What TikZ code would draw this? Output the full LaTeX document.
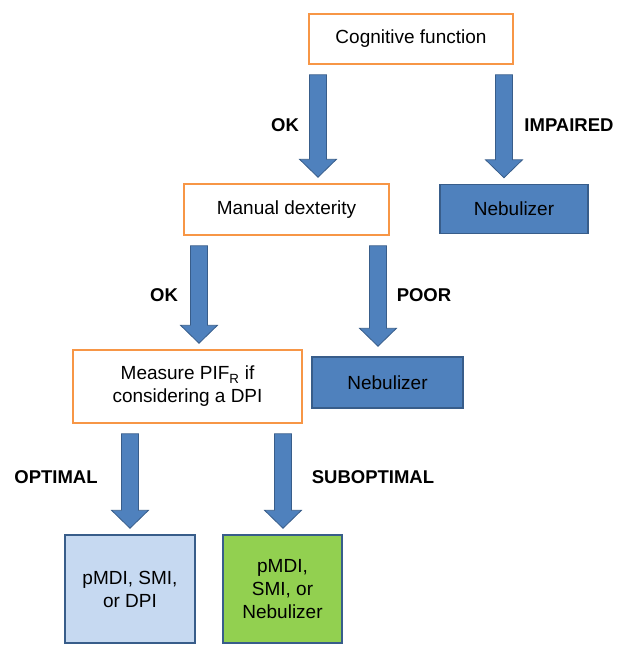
\documentclass[tikz,border=0pt]{standalone}
\usepackage{fontspec}
\setmainfont{Liberation Sans}
\usetikzlibrary{calc,positioning}

\definecolor{frameorange}{HTML}{F79646}
\definecolor{officeblue}{HTML}{4F81BD}
\definecolor{edgeblue}{HTML}{385D8A}
\definecolor{paleblue}{HTML}{C6D9F1}
\definecolor{leafgreen}{HTML}{92D050}

\tikzset{
  question/.style={rectangle, draw=frameorange, line width=1.5pt, fill=white, align=center, inner sep=0pt},
  device/.style={rectangle, draw=edgeblue, line width=1.5pt, fill=officeblue, align=center, inner sep=0pt},
  choice/.style={rectangle, draw=edgeblue, line width=1.5pt, align=center, inner sep=0pt},
  branch/.style={font=\fontsize{18.5}{22}\selectfont\bfseries},
  fatarrow/.style={fill=officeblue, draw=edgeblue, line width=0.8pt, line join=miter,
    to path={let \p1=(\tikztostart), \p2=(\tikztotarget) in
      ({\x1-8.5pt},{\y1-10pt}) -- ({\x1+8.5pt},{\y1-10pt}) -- ({\x1+8.5pt},{\y2+24pt})
      -- ({\x1+18.5pt},{\y2+24pt}) -- (\x1,{\y2+6pt}) -- ({\x1-18.5pt},{\y2+24pt})
      -- ({\x1-8.5pt},{\y2+24pt}) -- cycle}}
}

\begin{document}
\begin{tikzpicture}[x=1pt, y=1pt, font=\fontsize{19}{23}\selectfont]
    \useasboundingbox (0,0) rectangle (620,-645);

    % Questions
    \node[question, minimum width=204, minimum height=50] (cog) at (411,-39) {Cognitive function};
    \node[question, minimum width=205, minimum height=51] (manual) at (286.5,-209.5) {Manual dexterity};
    \node[question, minimum width=229, minimum height=73] (measure) at (187.5,-386.5) {Measure PIF\textsubscript{R} if\\considering a DPI};

    % Devices
    \node[device, minimum width=148, minimum height=49] (neb1) at (514,-209) {Nebulizer};
    \node[device, minimum width=151, minimum height=51] (neb2) at (387.5,-382.5) {Nebulizer};
    \node[choice, fill=paleblue, minimum width=130, minimum height=108] (optbox) at (130,-589) {pMDI, SMI,\\or DPI};
    \node[choice, fill=leafgreen, minimum width=119, minimum height=108] (subbox) at (282.5,-589) {pMDI,\\SMI, or\\Nebulizer};

    % Arrow columns
    \coordinate (colA) at (318,0);
    \coordinate (colB) at (504,0);
    \coordinate (colC) at (199,0);
    \coordinate (colD) at (378,0);
    \coordinate (colE) at (130,0);
    \coordinate (colF) at (283,0);

    % Flows
    \draw[fatarrow] (cog.south -| colA) to (manual.north -| colA);
    \draw[fatarrow] (cog.south -| colB) to (neb1.north -| colB);
    \draw[fatarrow] (manual.south -| colC) to (measure.north -| colC);
    \draw[fatarrow] (manual.south -| colD) to ([yshift=4pt]neb2.north -| colD);
    \draw[fatarrow] (measure.south -| colE) to (optbox.north -| colE);
    \draw[fatarrow] (measure.south -| colF) to (subbox.north -| colF);

    % Labels
    \node[branch] (okone) at (285,-125) {OK};
    \node[branch] (impaired) at (569,-125) {IMPAIRED};
    \node[branch] (oktwo) at (164,-295) {OK};
    \node[branch] (poor) at (424,-295) {POOR};
    \node[branch] (optimal) at (56,-477) {OPTIMAL};
    \node[branch] (suboptimal) at (373,-477) {SUBOPTIMAL};
\end{tikzpicture}
\end{document}
